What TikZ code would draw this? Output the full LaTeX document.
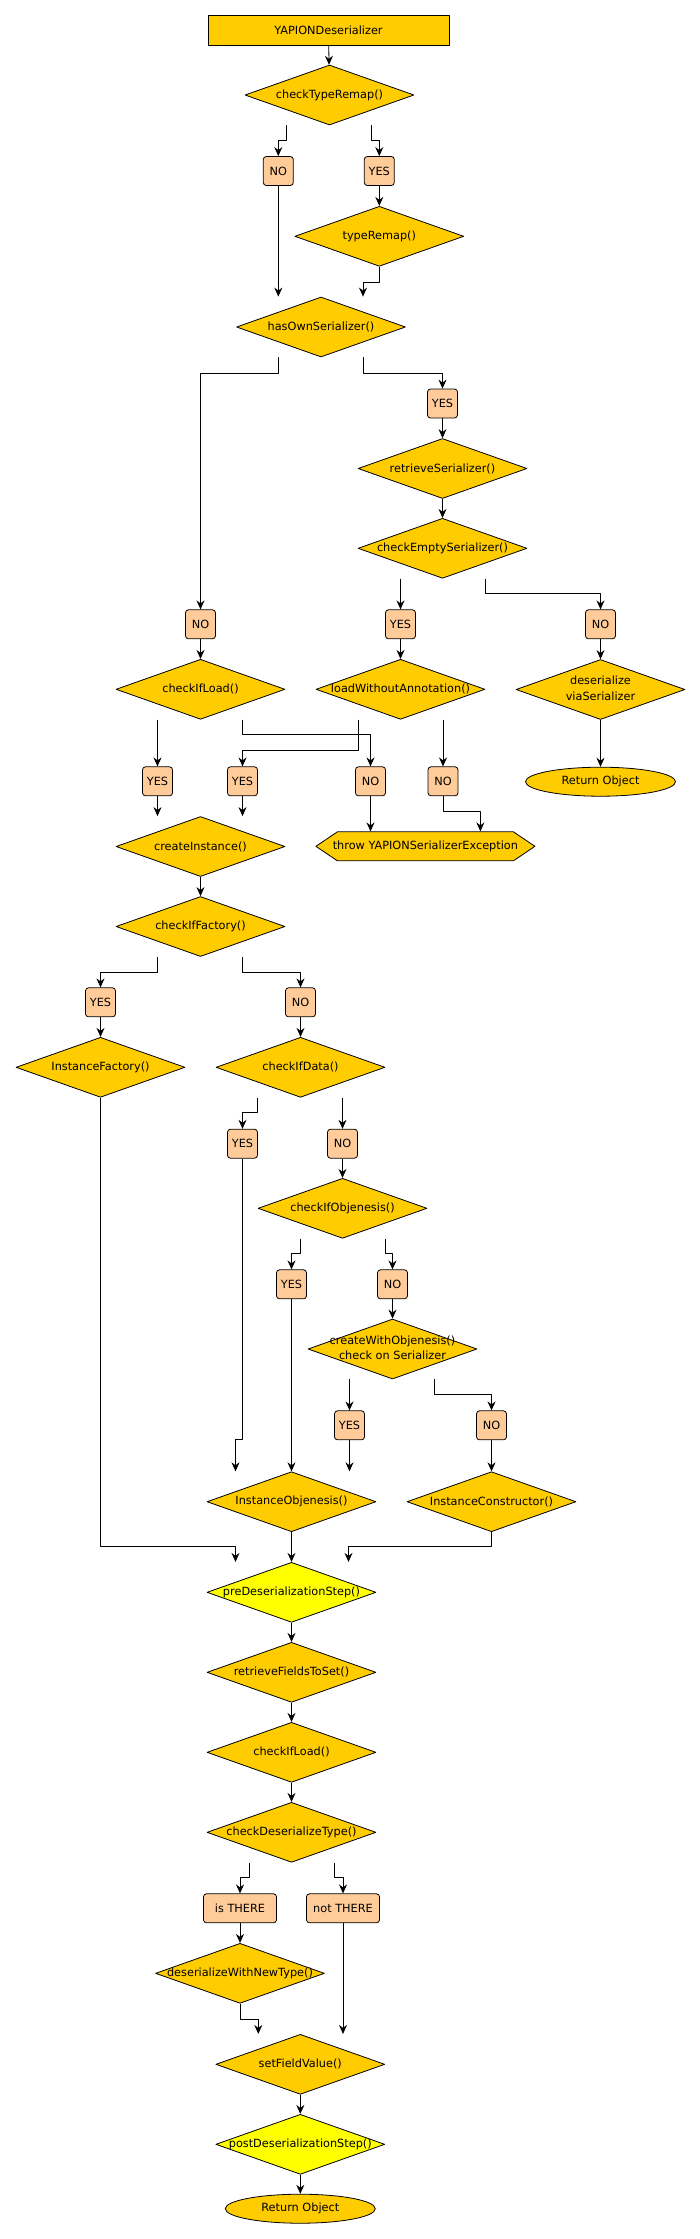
\documentclass[tikz,border=0pt]{standalone}
\usepackage{fontspec}
\setmainfont{DejaVu Sans}
\usetikzlibrary{shapes.geometric, shapes.symbols, arrows.meta}
\definecolor{gold}{HTML}{FFCC00}
\definecolor{peach}{HTML}{FFCC99}
\definecolor{lemon}{HTML}{FFFF00}
\newcommand{\nw}[1]{\makebox[0pt]{#1}}
\tikzset{
	decision/.style={diamond, draw, fill=gold, minimum width=169pt, minimum height=60pt, inner sep=0pt},
	answer/.style={rectangle, draw, fill=peach, rounded corners=3pt, minimum width=30pt, minimum height=29pt, inner sep=1pt},
	result/.style={ellipse, draw, fill=gold, minimum width=150pt, minimum height=29pt, inner sep=0pt}
}
\begin{document}
\begin{tikzpicture}[x=1pt, y=-1pt, font=\fontsize{11.3}{15.5}\selectfont, line join=round, line width=0.8pt, >={Stealth[length=9pt, width=8pt, inset=3pt]}]
	\useasboundingbox (0, 0) rectangle (700, 2239);
	\node[draw, fill=gold, minimum width=241pt, minimum height=30pt] (yd) at (328.5, 30) {YAPIONDeserializer};
	\node[decision] (ctr) at (329.5, 95) {\nw{checkTypeRemap()}};
	\node[answer] (no1) at (278.3, 171) {NO};
	\node[answer] (yes1) at (379.3, 171) {YES};
	\node[decision] (trm) at (379.3, 236.3) {\nw{typeRemap()}};
	\node[decision] (hos) at (321, 327) {\nw{hasOwnSerializer()}};
	\node[answer] (yes2) at (442.5, 403.5) {YES};
	\node[decision] (rs) at (442.5, 468.5) {\nw{retrieveSerializer()}};
	\node[decision] (ces) at (442.5, 548.3) {\nw{checkEmptySerializer()}};
	\node[answer] (no2) at (200.5, 624.3) {NO};
	\node[answer] (yes3) at (400.5, 624.3) {YES};
	\node[answer] (no3) at (600.5, 624.3) {NO};
	\node[decision] (cil) at (200.5, 689.3) {\nw{checkIfLoad()}};
	\node[decision] (lwa) at (400.5, 689.3) {\nw{loadWithoutAnnotation()}};
	\node[decision] (dvs) at (600.5, 689.5) {\nw{\begin{tabular}{@{}c@{}}deserialize\\viaSerializer\end{tabular}}};
	\node[result] (ret1) at (600.5, 781.7) {\nw{Return Object}};
	\node[answer] (yes4) at (157.5, 781.3) {YES};
	\node[answer] (yes5) at (242.5, 781.3) {YES};
	\node[answer] (no4) at (370.5, 781.3) {NO};
	\node[answer] (no5) at (443, 781.3) {NO};
	\node[decision] (ci) at (200.5, 846.5) {\nw{createInstance()}};
	\node[signal, signal to=west and east, signal pointer angle=68, draw, fill=gold, minimum width=219pt, minimum height=29pt, inner sep=0pt] (thr) at (425.4, 846.3) {\nw{throw YAPIONSerializerException}};
	\node[decision] (cif) at (200.5, 926.5) {\nw{checkIfFactory()}};
	\node[answer] (yes6) at (100.5, 1002.3) {YES};
	\node[answer] (no6) at (300.5, 1002.3) {NO};
	\node[decision] (ifa) at (100.5, 1067.3) {\nw{InstanceFactory()}};
	\node[decision] (cid) at (300.5, 1067.3) {\nw{checkIfData()}};
	\node[answer] (yes7) at (242.5, 1143.7) {YES};
	\node[answer] (no7) at (342.5, 1143.7) {NO};
	\node[decision] (cio) at (342.5, 1208.3) {\nw{checkIfObjenesis()}};
	\node[answer] (yes8) at (291.5, 1284.3) {YES};
	\node[answer] (no8) at (392.5, 1284.3) {NO};
	\node[decision] (cwo) at (392.5, 1349) {\nw{\begin{tabular}{@{}c@{}}createWithObjenesis()\\check on Serializer\end{tabular}}};
	\node[answer] (yes9) at (349.5, 1425.3) {YES};
	\node[answer] (no9) at (491.5, 1425.3) {NO};
	\node[decision] (iob) at (291.5, 1501.7) {\nw{InstanceObjenesis()}};
	\node[decision] (ico) at (491.5, 1501.7) {\nw{InstanceConstructor()}};
	\node[decision, fill=lemon] (pre) at (291.5, 1592.3) {\nw{preDeserializationStep()}};
	\node[decision] (rft) at (291.5, 1672.3) {\nw{retrieveFieldsToSet()}};
	\node[decision] (cil2) at (291.5, 1752.3) {\nw{checkIfLoad()}};
	\node[decision] (cdt) at (291.5, 1832.3) {\nw{checkDeserializeType()}};
	\node[answer, minimum width=73pt] (ist) at (240, 1908.3) {is THERE};
	\node[answer, minimum width=73pt] (nott) at (343, 1908.3) {not THERE};
	\node[decision] (dwn) at (240, 1973.3) {\nw{deserializeWithNewType()}};
	\node[decision] (sfv) at (300.3, 2064.3) {\nw{setFieldValue()}};
	\node[decision, fill=lemon] (post) at (300.3, 2144.3) {\nw{postDeserializationStep()}};
	\node[result] (ret2) at (300.3, 2208.7) {\nw{Return Object}};
	\draw[->] (yd) -- (ctr);
	\draw[->] ([xshift=-43pt]ctr.south) -- ++(0, 15) -| (no1);
	\draw[->] ([xshift=41.5pt]ctr.south) -- ++(0, 15) -| (yes1);
	\draw[->] (yes1) -- (trm);
	\draw[->] (no1) -- (no1 |- hos.north);
	\draw[->] (trm.south) -- ++(0, 15.5) -| ([xshift=42pt]hos.north);
	\draw[->] ([xshift=-42.7pt]hos.south) -- ++(0, 15.5) -| (no2);
	\draw[->] ([xshift=42.3pt]hos.south) -- ++(0, 15.5) -| (yes2);
	\draw[->] (yes2) -- (rs);
	\draw[->] (rs) -- (ces);
	\draw[->] ([xshift=-42pt]ces.south) -- (yes3);
	\draw[->] ([xshift=43pt]ces.south) -- ++(0, 15) -| (no3);
	\draw[->] (no2) -- (cil);
	\draw[->] (yes3) -- (lwa);
	\draw[->] (no3) -- (dvs);
	\draw[->] (dvs) -- (ret1);
	\draw[->] ([xshift=-43pt]cil.south) -- (yes4);
	\draw[->] ([xshift=42pt]cil.south) -- ++(0, 15) -| (no4);
	\draw[->] ([xshift=-42.5pt]lwa.south) -- ++(0, 31) -| (yes5);
	\draw[->] ([xshift=42.5pt]lwa.south) -- (no5);
	\draw[->] (yes4) -- (yes4 |- ci.north);
	\draw[->] (yes5) -- (yes5 |- ci.north);
	\draw[->] (no4) -- (no4 |- thr.north);
	\draw[->] (no5.south) -- ++(0, 15.5) -| ([xshift=55pt]thr.north);
	\draw[->] (ci) -- (cif);
	\draw[->] ([xshift=-43pt]cif.south) -- ++(0, 15) -| (yes6);
	\draw[->] ([xshift=42pt]cif.south) -- ++(0, 15) -| (no6);
	\draw[->] (yes6) -- (ifa);
	\draw[->] (no6) -- (cid);
	\draw[->] ([xshift=-43pt]cid.south) -- ++(0, 15) -| (yes7);
	\draw[->] ([xshift=42pt]cid.south) -- (no7);
	\draw[->] (no7) -- (cio);
	\draw[->] ([xshift=-42pt]cio.south) -- ++(0, 15) -| (yes8);
	\draw[->] ([xshift=43pt]cio.south) -- ++(0, 15) -| (no8);
	\draw[->] (no8) -- (cwo);
	\draw[->] ([xshift=-43pt]cwo.south) -- (yes9);
	\draw[->] ([xshift=42pt]cwo.south) -- ++(0, 15) -| (no9);
	\draw[->] (yes9) -- (yes9 |- iob.north);
	\draw[->] (yes8) -- (iob);
	\draw[->] (yes7.south) -- ++(0, 281) -| ([xshift=-56pt]iob.north);
	\draw[->] (no9) -- (ico);
	\draw[->] (ifa.south) -- ++(0, 448.7) -| ([xshift=-56pt]pre.north);
	\draw[->] (iob) -- (pre);
	\draw[->] (ico.south) -- ++(0, 14.5) -| ([xshift=57pt]pre.north);
	\draw[->] (pre) -- (rft);
	\draw[->] (rft) -- (cil2);
	\draw[->] (cil2) -- (cdt);
	\draw[->] ([xshift=-42pt]cdt.south) -- ++(0, 15) -| (ist);
	\draw[->] ([xshift=43pt]cdt.south) -- ++(0, 15) -| (nott);
	\draw[->] (ist) -- (dwn);
	\draw[->] (dwn.south) -- ++(0, 15.5) -| ([xshift=-42pt]sfv.north);
	\draw[->] (nott) -- (nott |- sfv.north);
	\draw[->] (sfv) -- (post);
	\draw[->] (post) -- (ret2);
\end{tikzpicture}
\end{document}
